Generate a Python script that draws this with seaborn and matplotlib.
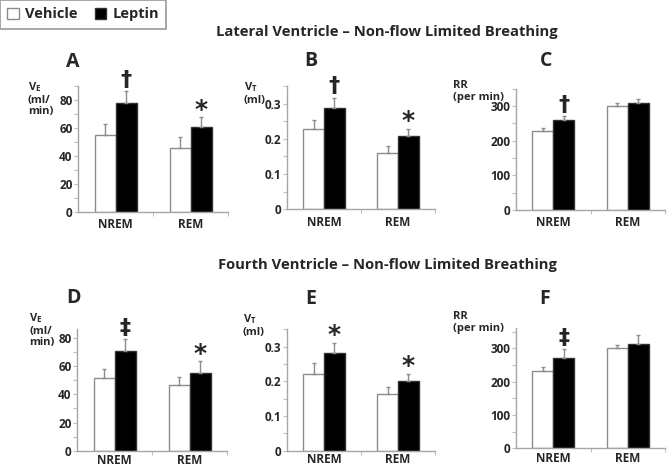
import matplotlib
matplotlib.use('Agg')
import matplotlib.pyplot as plt
from matplotlib.ticker import MultipleLocator
import seaborn as sns
import pandas as pd
import numpy as np

sns.set_style('white')
FONT = 'Open Sans'
plt.rcParams['font.family'] = [FONT, 'DejaVu Sans']
plt.rcParams['font.weight'] = 'bold'
plt.rcParams['mathtext.fontset'] = 'custom'
plt.rcParams['mathtext.rm'] = FONT + ':bold'
plt.rcParams['mathtext.bf'] = FONT + ':bold'

STATES = ['NREM', 'REM']
GROUPS = ['Vehicle', 'Leptin']
GREY = '#8c8c8c'

# ---- values (mean, SEM upward) ----
# Lateral ventricle
ve_lat_veh = [55, 46]
ve_lat_lep = [78, 60.5]
ve_lat_veh_err = [8, 7.3]
ve_lat_lep_err = [8.4, 7]

vt_lat_veh = [0.228, 0.159]
vt_lat_lep = [0.287, 0.207]
vt_lat_veh_err = [0.026, 0.020]
vt_lat_lep_err = [0.030, 0.021]

rr_lat_veh = [229, 299]
rr_lat_lep = [261, 309]
rr_lat_veh_err = [9, 10]
rr_lat_lep_err = [9, 11]

# Fourth ventricle
ve_4th_veh = [51.3, 46.4]
ve_4th_lep = [70.4, 54.7]
ve_4th_veh_err = [6.2, 5.6]
ve_4th_lep_err = [8.5, 8.5]

vt_4th_veh = [0.220, 0.163]
vt_4th_lep = [0.281, 0.200]
vt_4th_veh_err = [0.032, 0.020]
vt_4th_lep_err = [0.030, 0.021]

rr_4th_veh = [233, 302]
rr_4th_lep = [272, 314]
rr_4th_veh_err = [12, 9]
rr_4th_lep_err = [25, 27]

# significance markers above the leptin bars
sig_A = ['\u2020', '*']
sig_B = ['\u2020', '*']
sig_C = ['\u2020', '']
sig_D = ['\u2021', '*']
sig_E = ['*', '*']
sig_F = ['\u2021', '']


def px_rect(left, width, top, bottom):
    W, H = 667.0, 467.0
    return [left / W, 1 - bottom / H, width / W, (bottom - top) / H]


def draw_panel(fig, rect, veh, lep, veh_err, lep_err, sig, ymax, major, minor, fmt,
               xpad=4.5):
    ax = fig.add_axes(rect)
    df = pd.DataFrame({
        'state': STATES * 2,
        'group': [GROUPS[0]] * 2 + [GROUPS[1]] * 2,
        'value': list(veh) + list(lep),
    })
    sns.barplot(data=df, x='state', y='value', hue='group', order=STATES,
                hue_order=GROUPS, palette=['white', 'black'], width=0.56,
                errorbar=None, legend=False, ax=ax, linewidth=1)
    edges = [GREY, '#333333']
    errs = [veh_err, lep_err]
    means = [veh, lep]
    bar_conts = list(ax.containers)
    for k, cont in enumerate(bar_conts):
        xs = []
        for p in cont.patches:
            p.set_edgecolor(edges[k])
            xs.append(p.get_x() + p.get_width() / 2)
        ax.errorbar(xs, means[k], yerr=[np.zeros(2), errs[k]], fmt='none',
                    ecolor=GREY, elinewidth=1, capsize=1.5, capthick=1, zorder=1)
        if k == 1:
            for x, m, e, s in zip(xs, means[k], errs[k], sig):
                if not s:
                    continue
                if s == '*':
                    ax.annotate(s, (x, m + e), xytext=(0, -3), textcoords='offset points',
                                ha='center', va='bottom', fontsize=18,
                                fontweight='bold', annotation_clip=False,
                                family=['DejaVu Sans'])
                else:
                    ax.annotate(s, (x, m + e), xytext=(0, 1), textcoords='offset points',
                                ha='center', va='bottom', fontsize=16,
                                fontweight='bold', annotation_clip=False,
                                family=['DejaVu Sans'])
    ax.set_xlim(-0.5, 1.5)
    ax.set_ylim(0, ymax)
    ax.set_xlabel('')
    ax.set_ylabel('')
    sns.despine(ax=ax)
    for sp in ['left', 'bottom']:
        ax.spines[sp].set_color('#a6a6a6')
        ax.spines[sp].set_linewidth(1)
    ax.yaxis.set_major_locator(MultipleLocator(major))
    ax.yaxis.set_minor_locator(MultipleLocator(minor))
    ax.yaxis.set_major_formatter(fmt)
    ax.set_xticks([0, 1])
    ax.set_xticks([0.5, 1.5], minor=True)
    ax.tick_params(axis='y', which='both', left=True, length=3, width=0.8,
                   color='#bfbfbf', pad=1, labelsize=8.5)
    ax.tick_params(axis='x', which='major', length=0, pad=xpad, labelsize=8.5)
    ax.tick_params(axis='x', which='minor', bottom=True, length=3, width=0.8,
                   color='#bfbfbf')
    for lab in ax.get_xticklabels() + ax.get_yticklabels():
        lab.set_fontweight('bold')
    return ax


def fmt_int(v, pos):
    return '%d' % round(v)


def fmt_dec(v, pos):
    return '0' if abs(v) < 1e-9 else '%.1f' % v


fig = plt.figure(figsize=(6.67, 4.67), dpi=100)

draw_panel(fig, px_rect(78, 150, 86, 212), ve_lat_veh, ve_lat_lep,
           ve_lat_veh_err, ve_lat_lep_err, sig_A, 90, 20, 10, fmt_int)
draw_panel(fig, px_rect(287, 148, 86, 209.3), vt_lat_veh, vt_lat_lep,
           vt_lat_veh_err, vt_lat_lep_err, sig_B, 0.35, 0.1, 0.05, fmt_dec)
draw_panel(fig, px_rect(516, 149, 88.7, 210), rr_lat_veh, rr_lat_lep,
           rr_lat_veh_err, rr_lat_lep_err, sig_C, 350, 100, 50, fmt_int)
draw_panel(fig, px_rect(77, 150, 329, 451), ve_4th_veh, ve_4th_lep,
           ve_4th_veh_err, ve_4th_lep_err, sig_D, 86, 20, 10, fmt_int, xpad=2)
draw_panel(fig, px_rect(287, 148, 329.3, 450.7), vt_4th_veh, vt_4th_lep,
           vt_4th_veh_err, vt_4th_lep_err, sig_E, 0.35, 0.1, 0.05, fmt_dec, xpad=2)
draw_panel(fig, px_rect(516, 149, 328.3, 448.3), rr_4th_veh, rr_4th_lep,
           rr_4th_veh_err, rr_4th_lep_err, sig_F, 360, 100, 50, fmt_int, xpad=3)


def ftext(x, y, s, **kw):
    fig.text(x / 667.0, 1 - y / 467.0, s, fontweight='bold', **kw)


# section titles
ftext(387, 32, 'Lateral Ventricle \u2013 Non-flow Limited Breathing',
      ha='center', va='center', fontsize=10.6)
ftext(387, 265, 'Fourth Ventricle \u2013 Non-flow Limited Breathing',
      ha='center', va='center', fontsize=10.6)

# panel letters
for letter, x, y in [('A', 73, 62), ('B', 311, 61), ('C', 546, 61),
                     ('D', 74, 298), ('E', 311, 299), ('F', 545, 299)]:
    ftext(x, y, letter, ha='center', va='center', fontsize=14)

# y-axis labels
ylab_ve = '$\\mathbf{V}_{\\mathbf{E}}$\n(ml/\nmin)'
ylab_vt = '$\\mathbf{V}_{\\mathbf{T}}$\n(ml)'
ylab_rr = 'RR\n(per min)'
for s, x, y in [(ylab_ve, 28, 80), (ylab_vt, 244, 80), (ylab_rr, 453, 80),
                (ylab_ve, 29, 311), (ylab_vt, 243, 312), (ylab_rr, 453, 311)]:
    ftext(x, y, s, ha='left', va='top', fontsize=8, linespacing=1.1)

# legend
handles = [plt.Rectangle((0, 0), 1, 1, facecolor='white', edgecolor=GREY, linewidth=1),
           plt.Rectangle((0, 0), 1, 1, facecolor='black', edgecolor='#333333', linewidth=1)]
leg = fig.legend(handles, GROUPS, loc='upper left', bbox_to_anchor=(0.0, 1.0),
                 ncol=2, frameon=True, fancybox=False, borderaxespad=0.0,
                 handlelength=0.8, handleheight=0.8, handletextpad=0.4,
                 columnspacing=1.2, borderpad=0.5,
                 prop={'weight': 'bold', 'size': 10.5})
leg.get_frame().set_edgecolor('#7f7f7f')
leg.get_frame().set_linewidth(1.2)

fig.savefig('out.png', dpi=100)
plt.close(fig)
